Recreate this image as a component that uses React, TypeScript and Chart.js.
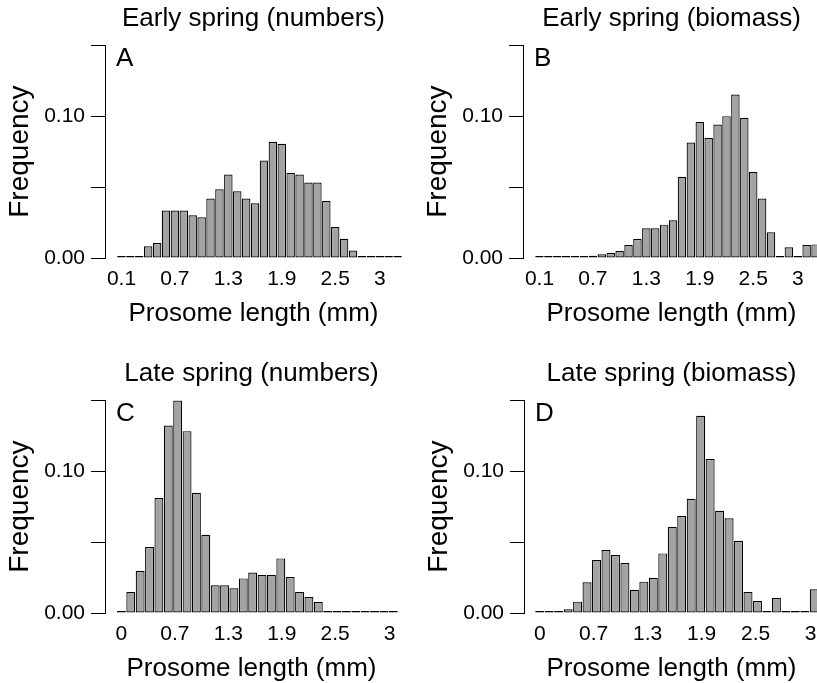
import React, { useEffect, useRef } from "react";
import { Chart, registerables } from "chart.js";

Chart.register(...registerables);

// ---- Data (relative frequency per prosome-length bin) ----
const freqEarlyNumbers = [
  0, 0, 0, 0.0082, 0.0106, 0.0334, 0.0334, 0.0334, 0.0301, 0.0287, 0.0419,
  0.0485, 0.0588, 0.0471, 0.0419, 0.0386, 0.0687, 0.0819, 0.0805, 0.06,
  0.0588, 0.0532, 0.0532, 0.0402, 0.0219, 0.0136, 0.0052, 0, 0, 0, 0, 0,
];
const freqEarlyBiomass = [
  0, 0, 0, 0, 0, 0.001, 0.0016, 0.0026, 0.0035, 0.0049, 0.0092, 0.0134,
  0.0209, 0.0209, 0.0235, 0.0266, 0.0572, 0.0814, 0.0958, 0.0845, 0.0941,
  0.1, 0.1153, 0.0988, 0.0607, 0.0419, 0.0181, 0, 0.0075, 0, 0.0092, 0.0096,
];
const freqLateNumbers = [
  0, 0.0148, 0.0296, 0.0465, 0.081, 0.1322, 0.1498, 0.1282, 0.0847, 0.0552,
  0.0195, 0.0195, 0.0174, 0.0244, 0.0286, 0.0268, 0.0268, 0.0385, 0.0254,
  0.0148, 0.0113, 0.0077, 0, 0, 0, 0, 0, 0, 0, 0,
];
const freqLateBiomass = [
  0, 0.0005, 0.0012, 0.0026, 0.008, 0.0216, 0.0373, 0.0444, 0.0408, 0.0352,
  0.0164, 0.0221, 0.0249, 0.042, 0.0606, 0.0683, 0.0805, 0.139, 0.1085,
  0.0721, 0.0667, 0.0509, 0.0148, 0.0085, 0, 0.0108, 0, 0, 0, 0.0167,
];

// x tick labels and the bin positions they sit at
const xTickLabelsEarly = ["0.1", "0.7", "1.3", "1.9", "2.5", "3"];
const xTickBinsEarly = [0, 6, 12, 18, 24, 29];
const xTickLabelsLate = ["0", "0.7", "1.3", "1.9", "2.5", "3"];
const xTickBinsLate = [0, 5.7, 11.4, 17.1, 22.8, 28.6];

const yTickValues = [0, 0.05, 0.1, 0.15];
const yTickLabels = ["0.00", "", "0.10", ""];

const panelTitles = [
  "Early spring (numbers)",
  "Early spring (biomass)",
  "Late spring (numbers)",
  "Late spring (biomass)",
];
const panelLetters = ["A", "B", "C", "D"];
const xAxisTitle = "Prosome length (mm)";
const yAxisTitle = "Frequency";

const FONT = "'Liberation Sans', Arial, Helvetica, sans-serif";
const W = 418;
const H = 355;

const letterPlugin = {
  id: "panelLetter",
  afterDraw(chart: any, _args: any, opts: any) {
    const { ctx, chartArea } = chart;
    ctx.save();
    ctx.font = `26px ${FONT}`;
    ctx.fillStyle = "#000";
    ctx.textAlign = "left";
    ctx.textBaseline = "alphabetic";
    ctx.fillText(opts.text, chartArea.left + 11, chartArea.top + 21);
    ctx.restore();
  },
};

type PanelProps = {
  left: number;
  top: number;
  title: string;
  letter: string;
  freq: number[];
  tickBins: number[];
  tickLabels: string[];
  areaRight: number;
  xMin: number;
};

function Panel(p: PanelProps) {
  const ref = useRef<HTMLCanvasElement>(null);
  useEffect(() => {
    if (!ref.current) return;
    const n = p.freq.length;
    const chart = new Chart(ref.current, {
      type: "bar",
      data: {
        datasets: [
          {
            data: p.freq.map((y, i) => ({ x: i, y })),
            backgroundColor: "#a3a3a3",
            borderColor: "#000",
            borderWidth: 1.2,
            borderSkipped: false,
            barPercentage: 0.95,
            categoryPercentage: 1,
            minBarLength: 2,
          } as any,
        ],
      },
      options: {
        responsive: false,
        animation: false,
        events: [],
        layout: { padding: { left: 0, top: 0, right: W - p.areaRight, bottom: 0 } },
        plugins: {
          legend: { display: false },
          tooltip: { enabled: false },
          title: {
            display: true,
            text: p.title,
            fullSize: false,
            color: "#000",
            font: { family: FONT, size: 26, weight: "normal" as any },
            padding: { top: 3, bottom: 11 },
          },
          panelLetter: { text: p.letter },
        } as any,
        scales: {
          x: {
            type: "linear",
            offset: false,
            min: p.xMin,
            max: n - 0.5,
            grid: { display: false, drawTicks: false, offset: false },
            border: { display: false },
            afterBuildTicks: (s: any) => {
              s.ticks = p.tickBins.map((v) => ({ value: v }));
            },
            afterFit: (s: any) => {
              s.height = 97;
              s.paddingLeft = 0;
              s.paddingRight = 0;
            },
            ticks: {
              autoSkip: false,
              maxRotation: 0,
              minRotation: 0,
              padding: 9,
              color: "#000",
              font: { family: FONT, size: 21 },
              callback: (_v: any, i: number) => p.tickLabels[i],
            },
            title: {
              display: true,
              text: xAxisTitle,
              color: "#000",
              font: { family: FONT, size: 26 },
              padding: { top: 0, bottom: 26 },
            },
          },
          y: {
            type: "linear",
            min: 0,
            max: 0.15,
            afterBuildTicks: (s: any) => {
              s.ticks = yTickValues.map((v) => ({ value: v }));
            },
            afterFit: (s: any) => {
              s.width = 105;
              s.paddingTop = 0;
              s.paddingBottom = 0;
            },
            grid: {
              display: true,
              drawOnChartArea: false,
              drawTicks: true,
              tickLength: 14,
              color: "#000",
              lineWidth: 1,
            },
            border: { display: true, color: "#000", width: 1 },
            ticks: {
              padding: 6,
              color: "#000",
              font: { family: FONT, size: 21 },
              callback: (_v: any, i: number) => yTickLabels[i],
            },
            title: {
              display: true,
              text: yAxisTitle,
              color: "#000",
              font: { family: FONT, size: 28 },
              padding: { top: 3, bottom: 0 },
            },
          },
        } as any,
      },
      plugins: [letterPlugin],
    });
    return () => chart.destroy();
  }, []);
  return (
    <div style={{ position: "absolute", left: p.left, top: p.top, width: W, height: H }}>
      <canvas ref={ref} width={W} height={H} style={{ display: "block" }} />
    </div>
  );
}

export default function App() {
  const panels: PanelProps[] = [
    { left: 0, top: 0, title: panelTitles[0], letter: panelLetters[0], freq: freqEarlyNumbers, tickBins: xTickBinsEarly, tickLabels: xTickLabelsEarly, areaRight: 402, xMin: -1.85 },
    { left: 418, top: 0, title: panelTitles[1], letter: panelLetters[1], freq: freqEarlyBiomass, tickBins: xTickBinsEarly, tickLabels: xTickLabelsEarly, areaRight: 402, xMin: -1.85 },
    { left: 0, top: 355, title: panelTitles[2], letter: panelLetters[2], freq: freqLateNumbers, tickBins: xTickBinsLate, tickLabels: xTickLabelsLate, areaRight: 398, xMin: -1.75 },
    { left: 419, top: 355, title: panelTitles[3], letter: panelLetters[3], freq: freqLateBiomass, tickBins: xTickBinsLate, tickLabels: xTickLabelsLate, areaRight: 400, xMin: -1.66 },
  ];
  return (
    <div
      style={{
        position: "absolute",
        left: 0,
        top: 0,
        width: 817,
        height: 683,
        overflow: "hidden",
        background: "#fff",
      }}
    >
      {panels.map((p) => (
        <Panel key={p.letter} {...p} />
      ))}
    </div>
  );
}
